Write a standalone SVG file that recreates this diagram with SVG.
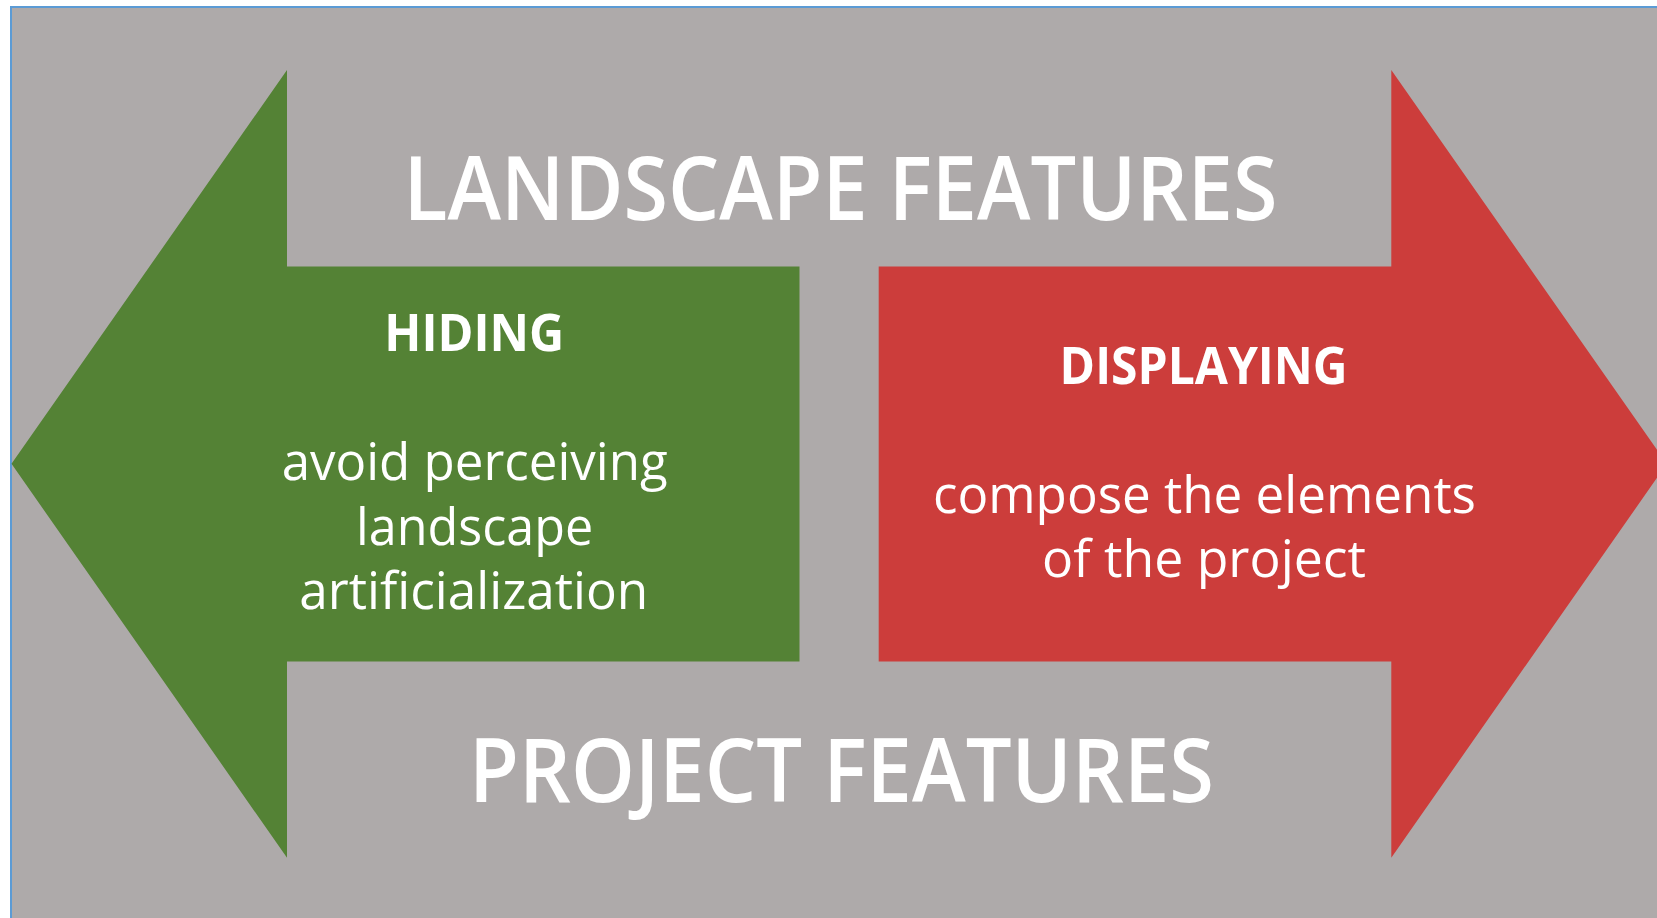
<svg xmlns="http://www.w3.org/2000/svg" width="1657" height="918" viewBox="0 0 1657 918">
  <style>
    .t { font-family: "Open Sans", "Liberation Sans", sans-serif; fill: #FFFFFF; text-anchor: middle; }
    .big { font-size: 89px; font-weight: 600; }
    .head { font-size: 52px; font-weight: bold; }
    .body { font-size: 51px; }
  </style>
  <rect x="0" y="0" width="1657" height="918" fill="#FFFFFF"/>
  <rect id="frame" x="11" y="7" width="1660" height="920" fill="#AEAAAA" stroke="#5B9BD5" stroke-width="2"/>
  <g id="hiding">
    <polygon points="11.5,463.8 287,70 287,266.5 799.5,266.5 799.5,661.5 287,661.5 287,857.7" fill="#548235"/>
    <text class="t head" x="474.3" y="351" textLength="180" lengthAdjust="spacingAndGlyphs">HIDING</text>
    <text class="t body" x="474.7" y="480" textLength="386" lengthAdjust="spacingAndGlyphs">avoid perceiving</text>
    <text class="t body" x="474.6" y="545" textLength="237" lengthAdjust="spacingAndGlyphs">landscape</text>
    <text class="t body" x="473.8" y="609" textLength="349" lengthAdjust="spacingAndGlyphs">artificialization</text>
  </g>
  <g id="displaying">
    <polygon points="878.7,266.5 1391.3,266.5 1391.3,70 1666.8,463.8 1391.3,857.7 1391.3,661.5 878.7,661.5" fill="#CC3D3B"/>
    <text class="t head" x="1203.6" y="383.5" textLength="288" lengthAdjust="spacingAndGlyphs">DISPLAYING</text>
    <text class="t body" x="1204.5" y="512.7" textLength="543" lengthAdjust="spacingAndGlyphs">compose the elements</text>
    <text class="t body" x="1204" y="576.7" textLength="324" lengthAdjust="spacingAndGlyphs">of the project</text>
  </g>
  <g id="landscape-features">
    <text class="t big" x="840.5" y="220" textLength="874" lengthAdjust="spacingAndGlyphs">LANDSCAPE FEATURES</text>
  </g>
  <g id="project-features">
    <text class="t big" x="841.5" y="801.5" textLength="745" lengthAdjust="spacingAndGlyphs">PROJECT FEATURES</text>
  </g>
  <g id="connectors"/>
</svg>
